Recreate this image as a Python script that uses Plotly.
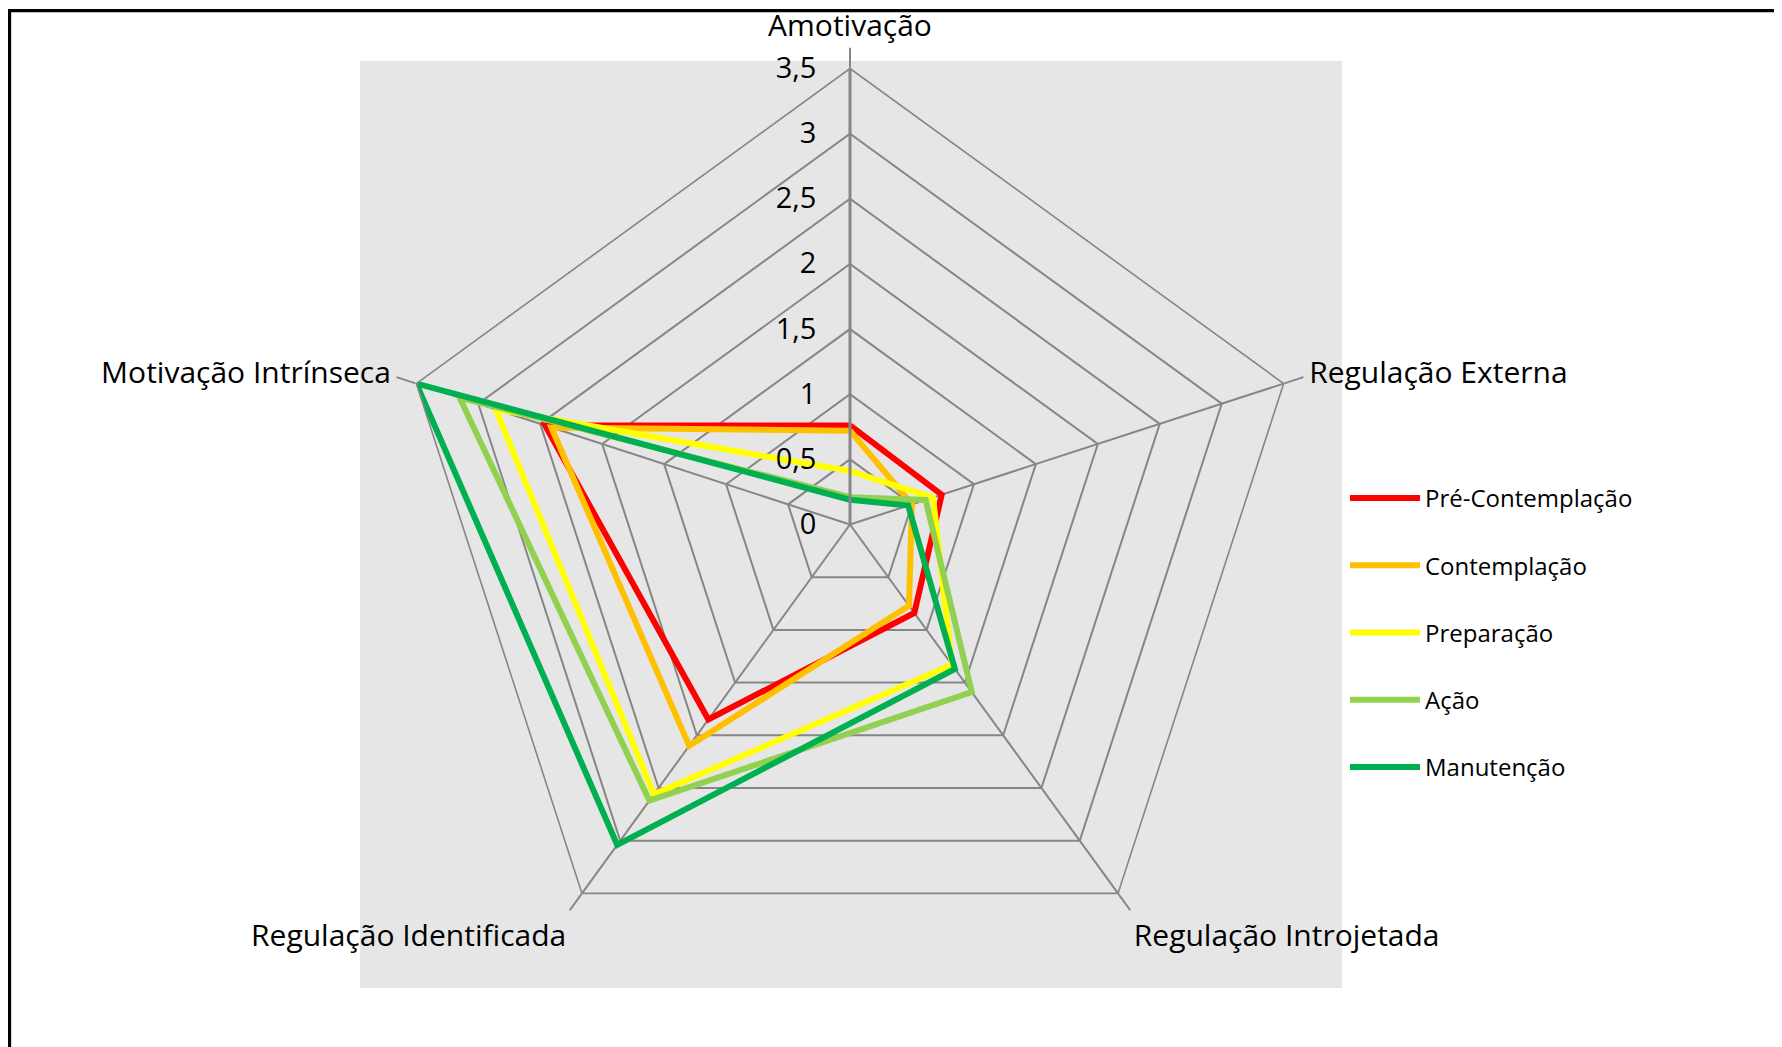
import plotly.graph_objects as go

# ---- data ----
categories = ["Amotivação", "Regulação Externa", "Regulação Introjetada",
              "Regulação Identificada", "Motivação Intrínseca"]
series_names = ["Pré-Contemplação", "Contemplação", "Preparação", "Ação", "Manutenção"]
pre_contemplacao = [0.76, 0.74, 0.84, 1.85, 2.46]
contemplacao = [0.72, 0.50, 0.77, 2.10, 2.41]
preparacao = [0.41, 0.67, 1.33, 2.56, 2.86]
acao = [0.21, 0.61, 1.59, 2.62, 3.15]
manutencao = [0.19, 0.47, 1.37, 3.04, 3.50]
radial_ticks = [0, 0.5, 1, 1.5, 2, 2.5, 3, 3.5]

series_values = [pre_contemplacao, contemplacao, preparacao, acao, manutencao]
colors = ["#FF0000", "#FFC000", "#FFFF00", "#92D050", "#00B050"]

OFF = 8  # page body margin
W, H = 1782 - OFF, 1047 - OFF
FONT = "Open Sans"
GRID = "#868686"


def px(x):
    return (x - OFF) / W


def py(y):
    return 1 - (y - OFF) / H


fig = go.Figure()
for i, (name, vals, col) in enumerate(zip(series_names, series_values, colors)):
    fig.add_trace(go.Scatterpolar(
        r=list(vals) + [vals[0]],
        theta=categories + [categories[0]],
        mode="lines",
        name=name,
        legendgroup=f"g{i}",
        line=dict(color=col, width=6),
    ))

cx, cy, R = 850, 524.5, 456
fig.update_layout(
    width=W, height=H,
    margin=dict(l=0, r=0, t=0, b=0),
    paper_bgcolor="white",
    plot_bgcolor="white",
    separators=", ",
    font=dict(family=FONT, color="black"),
    showlegend=True,
    polar=dict(
        domain=dict(x=[px(cx - R), px(cx + R)],
                    y=[py(cy + R), py(cy - R)]),
        bgcolor="rgba(0,0,0,0)",
        gridshape="linear",
        angularaxis=dict(
            rotation=90, direction="clockwise",
            showline=True, linecolor=GRID, linewidth=1.6,
            showgrid=True, gridcolor=GRID, gridwidth=1.6,
            ticks="outside", ticklen=20, tickcolor=GRID, tickwidth=1.6,
            tickfont=dict(size=30, family=FONT, color="black"),
        ),
        radialaxis=dict(
            range=[0, 3.5], tickvals=radial_ticks,
            angle=90, side="counterclockwise",
            showline=True, linecolor=GRID, linewidth=3,
            showgrid=True, gridcolor=GRID, gridwidth=1.6,
            ticks="outside", ticklen=22, tickcolor="rgba(0,0,0,0)",
            tickfont=dict(size=29, family=FONT, color="black"),
            tickangle=90,
        ),
    ),
    legend=dict(
        x=px(1345), xanchor="left",
        y=py(476), yanchor="top",
        font=dict(size=24, family=FONT, color="black"),
        tracegroupgap=33,
        bgcolor="rgba(0,0,0,0)",
        itemwidth=70,
    ),
    shapes=[
        dict(type="rect", xref="paper", yref="paper", layer="below",
             x0=px(360), x1=px(1342), y0=py(988), y1=py(61),
             fillcolor="#E6E6E6", line=dict(width=0)),
        dict(type="rect", xref="paper", yref="paper", layer="above",
             x0=px(9.5), x1=1.02, y0=-0.02, y1=py(10.7),
             fillcolor="rgba(0,0,0,0)", line=dict(color="black", width=3.3)),
    ],
)

fig.write_html("out.html")
